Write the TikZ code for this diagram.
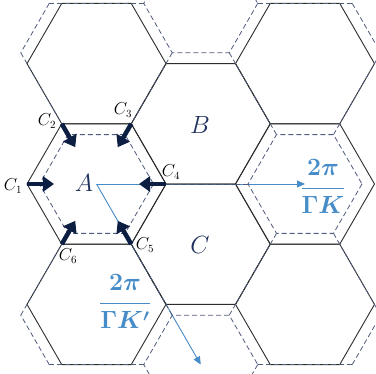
\documentclass[tikz,border=0pt]{standalone}
\usetikzlibrary{arrows.meta,calc}
\definecolor{hexline}{RGB}{45,45,45}
\definecolor{dashline}{RGB}{80,92,125}
\definecolor{navy}{RGB}{12,30,66}
\definecolor{lettc}{RGB}{30,48,92}
\definecolor{kblue}{RGB}{70,140,200}
\begin{document}
\begin{tikzpicture}[x=1pt,y=-1pt,
  hexs/.style={draw=hexline, line width=0.9pt, line join=miter},
  dhex/.style={draw=dashline, line width=0.8pt, dash pattern=on 5pt off 3pt},
  carrow/.style={draw=navy, line width=4.5pt, -{Triangle[length=11pt,width=15pt]}},
  karrow/.style={draw=kblue, line width=0.9pt, -{Triangle[length=8pt,width=7pt]}},
  clab/.style={font=\fontsize{16}{18}\selectfont, inner sep=0pt},
  big/.style={font=\fontsize{25}{30}\selectfont, text=lettc, inner sep=0pt},
  kfrac/.style={font=\fontsize{25}{30}\selectfont\boldmath, text=kblue, inner sep=0pt, anchor=base}]
\useasboundingbox (0,0) rectangle (376,374);
\fill[white] (0,0) rectangle (376,374);

\coordinate (Ac) at (96.5,184);
\coordinate (Kr) at (305,184);
\coordinate (Kd) at (200.75,364.6);

% blue reciprocal vectors (below lattice)
\draw[karrow] (Ac) -- (Kr);
\draw[karrow] (Ac) -- (Kd);

\begin{scope}
\clip (0,0) rectangle (376,374);
% solid honeycomb
\foreach \cx/\cy in {96.5/63.6, 96.5/184, 96.5/304.4, 200.75/123.8, 200.75/244.2, 305/63.6, 305/184, 305/304.4}
  \draw[hexs, shift={(\cx,\cy)}] (0:69.5) -- (60:69.5) -- (120:69.5) -- (180:69.5) -- (240:69.5) -- (300:69.5) -- cycle;
% dashed (distorted) lattice: contracted A-type hexagons and stretched B--C bonds
\foreach \cx/\cy/\spokes in {96.5/184/{0,60,120,240,300}, 305/184/{60,120,180,240,300},
    200.75/3.4/{0,60,120,180}, 200.75/364.6/{0,180,240,300}}{
  \begin{scope}[shift={(\cx,\cy)}]
  \draw[dhex] (0:57) -- (60:57) -- (120:57) -- (180:57) -- (240:57) -- (300:57) -- cycle;
  \foreach \k in \spokes
    \draw[dhex] (\k:57) -- (\k:104.25);
  \end{scope}
}
\foreach \cx/\cy/\ea/\eb/\sa/\sb in {-7.75/3.4/0/60/0/60, -7.75/364.6/0/300/0/300,
    409.25/3.4/180/120/180/120, 409.25/364.6/180/240/180/240}{
  \begin{scope}[shift={(\cx,\cy)}]
  \draw[dhex] (\ea:57) -- (\eb:57);
  \draw[dhex] (\sa:57) -- (\sa:104.25);
  \draw[dhex] (\sb:57) -- (\sb:104.25);
  \end{scope}
}
\end{scope}

% vertices of hexagon A
\coordinate (c1) at (27,184);
\coordinate (c2) at (61.75,123.8);
\coordinate (c3) at (131.25,123.8);
\coordinate (c4) at (166,184);
\coordinate (c5) at (131.25,244.2);
\coordinate (c6) at (61.75,244.2);
\foreach \c in {c1,c2,c3,c4,c5,c6}
  \draw[carrow] (\c) -- ($(\c)!27pt!(Ac)$);

\node[clab] (l1) at (13,186) {$C_1$};
\node[clab] (l2) at (47,121) {$C_2$};
\node[clab] (l3) at (123,110) {$C_3$};
\node[clab] (l4) at (171,172) {$C_4$};
\node[clab] (l5) at (145,245) {$C_5$};
\node[clab] (l6) at (68,256) {$C_6$};

\node[big] (A) at (84,183) {$A$};
\node[big] (B) at (200,125) {$B$};
\node[big] (C) at (200,245) {$C$};

\node[kfrac] (f1) at (323,194.25) {$\displaystyle\frac{2\pi\rule[-11.5pt]{0pt}{0pt}}{\rule{0pt}{23pt}\Gamma K}$};
\node[kfrac] (f2) at (125,309.75) {$\displaystyle\frac{2\pi\rule[-11.5pt]{0pt}{0pt}}{\rule{0pt}{23pt}\Gamma K'}$};
\end{tikzpicture}
\end{document}
